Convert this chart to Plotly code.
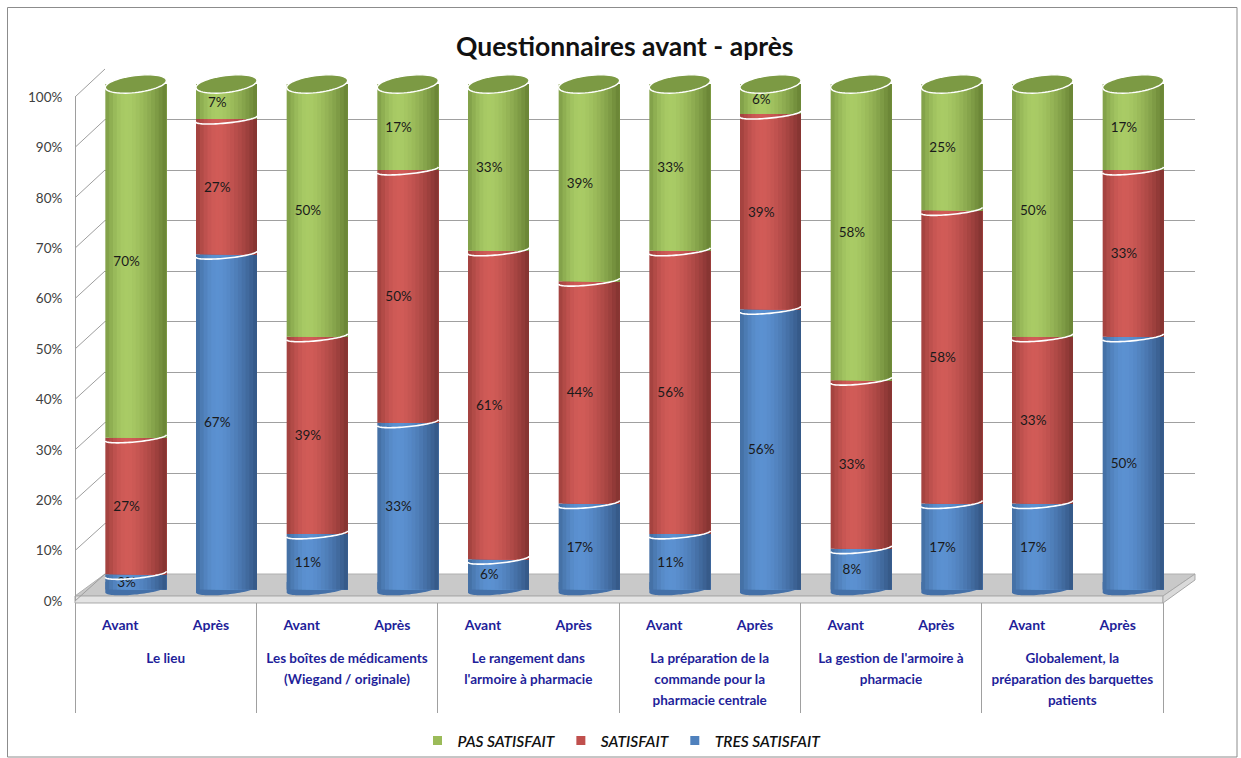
import numpy as np
import plotly.graph_objects as go

# ---------------- data ----------------
groups = [
    "Le lieu",
    "Les boîtes de médicaments<br>(Wiegand / originale)",
    "Le rangement dans<br>l'armoire à pharmacie",
    "La préparation de la<br>commande pour la<br>pharmacie centrale",
    "La gestion de l'armoire à<br>pharmacie",
    "Globalement, la<br>préparation des barquettes<br>patients",
]
moments = ["Avant", "Après"] * 6
tres_satisfait = [3, 67, 11, 33, 6, 17, 11, 56, 8, 17, 17, 50]
satisfait = [27, 27, 39, 50, 61, 44, 56, 39, 33, 58, 33, 33]
pas_satisfait = [70, 7, 50, 17, 33, 39, 33, 6, 58, 25, 50, 17]
series_names = ["PAS SATISFAIT", "SATISFAIT", "TRES SATISFAIT"]
y_ticks = list(range(0, 101, 10))

# ---------------- geometry helpers ----------------
W_PX, H_PX = 1241, 758
def px(x): return x / W_PX
def py(y): return 1 - y / H_PX

UX = 1088 / 12.0          # px per bar slot
UY = 5.055                # px per percent (bar plane)
Y0BAR = 589.5             # px of 0 % in bar plane
xr = [-0.5, 11.6]
x2_dom = [px(75), px(75 + (xr[1] - xr[0]) * UX)]
yr2 = [-4, 104]
y2_dom = [py(Y0BAR - yr2[0] * UY), py(Y0BAR - yr2[1] * UY)]
BW = 61 / UX
BOFF = -15 / UX

n = len(moments)
xs = list(range(n))
vals = np.array([tres_satisfait, satisfait, pas_satisfait], dtype=float)
tot = vals.sum(axis=0)
norm = vals / tot * 100
bases = np.vstack([np.zeros(n), norm[0], norm[0] + norm[1]])

# colours: (left edge, highlight, right edge)
pal = {
    "TRES SATISFAIT": ((66, 108, 160), (92, 146, 210), (52, 86, 132)),
    "SATISFAIT": ((158, 64, 61), (210, 92, 88), (130, 50, 48)),
    "PAS SATISFAIT": ((126, 156, 70), (170, 204, 102), (104, 130, 52)),
}
legend_col = {"PAS SATISFAIT": "#9bbb59", "SATISFAIT": "#c0504d", "TRES SATISFAIT": "#4f81bd"}

def strip_color(cols, u, h=0.36):
    l, m, r = [np.array(c, float) for c in cols]
    if u < h:
        f = np.sin(np.pi / 2 * u / h)
        c = l + (m - l) * f
    else:
        f = ((u - h) / (1 - h)) ** 1.5
        c = m + (r - m) * f
    return "rgb(%d,%d,%d)" % tuple(np.clip(c, 0, 255))

# group labels split into lines (one axis per line for Excel-like spacing)
group_lines = [g.split("<br>") for g in groups]
n_lines = max(len(l) for l in group_lines)
group_centers = [2 * g + 0.5 for g in range(len(groups))]

fig = go.Figure()

# helper traces so every axis gets drawn
helper_axes = [("x", "y"), ("x2", "y4"), ("x3", "y2")] + [("x%d" % (4 + j), "y2") for j in range(n_lines)]
for xa, ya in helper_axes:
    fig.add_trace(go.Scatter(x=[None], y=[None], xaxis=xa, yaxis=ya, showlegend=False, hoverinfo="skip"))

# shaded cylinder bodies
N = 16
order = [(0, "TRES SATISFAIT"), (1, "SATISFAIT"), (2, "PAS SATISFAIT")]
for si, name in order:
    for k in range(N):
        start = BOFF + k * BW / N
        width = BW - k * BW / N
        fig.add_trace(go.Bar(
            x=xs, y=norm[si], base=bases[si], width=width, offset=start,
            marker=dict(color=strip_color(pal[name], (k + 0.5) / N), line=dict(width=0)),
            xaxis="x2", yaxis="y2", showlegend=False, hoverinfo="skip",
        ))

# value labels
for si, name in order:
    raw = vals[si]
    fig.add_trace(go.Bar(
        x=xs, y=norm[si], base=bases[si], width=BW * 0.7, offset=BOFF,
        marker=dict(color="rgba(0,0,0,0)", line=dict(width=0)),
        text=["%d%%" % v for v in raw], textposition="inside", insidetextanchor="middle",
        textangle=0, constraintext="none",
        textfont=dict(family="Lato, sans-serif", size=13.5, color="#1a1a1a"),
        xaxis="x2", yaxis="y2", showlegend=False, hoverinfo="skip", cliponaxis=False,
    ))

# legend entries
for name in series_names:
    fig.add_trace(go.Scatter(
        x=[None], y=[None], mode="markers", name=name,
        marker=dict(symbol="square", size=9, color=legend_col[name]),
        xaxis="x2", yaxis="y2", hoverinfo="skip",
    ))

shapes = []

def ell_points(cx, cy, a, b_px, s_px, t0, t1, m=40):
    t = np.linspace(t0, t1, m)
    X = cx + a * np.cos(t)
    Y = cy + (-b_px * np.sin(t) + s_px * np.cos(t)) / UY
    return X, Y

def path_from(X, Y, close=False):
    p = "M %.4f,%.4f " % (X[0], Y[0]) + " ".join("L %.4f,%.4f" % (a, b) for a, b in zip(X[1:], Y[1:]))
    return p + (" Z" if close else "")

a = BW / 2
for i in xs:
    cx = i + BOFF + BW / 2
    # bottom rounded edge
    X, Y = ell_points(cx, 0.0, a, 5, 3, 0, np.pi)
    X = np.concatenate([X, [cx - a, cx + a]])
    Y = np.concatenate([Y, [1.5, 1.5]])
    shapes.append(dict(type="path", xref="x2", yref="y2", layer="below",
                       path=path_from(X, Y, True), fillcolor="rgb(68,112,168)", line=dict(width=0)))
    # boundaries between segments
    for c in (bases[1][i], bases[2][i]):
        X, Y = ell_points(cx, c, a, 4, 3, 0, np.pi)
        shapes.append(dict(type="path", xref="x2", yref="y2", layer="above",
                           path=path_from(X, Y), line=dict(color="white", width=1.6)))
    # top cap
    top = bases[2][i] + norm[2][i]
    X, Y = ell_points(cx, top, a, 8.5, 3.5, 0, 2 * np.pi, 60)
    shapes.append(dict(type="path", xref="x2", yref="y2", layer="above",
                       path=path_from(X, Y, True), fillcolor="rgb(124,154,68)",
                       line=dict(color="white", width=1.4)))

# floor
def ppath(pts):
    return "M " + " L ".join("%.5f,%.5f" % (px(x), py(y)) for x, y in pts) + " Z"
shapes.append(dict(type="path", xref="paper", yref="paper", layer="below",
                   path=ppath([(75, 596), (1163, 596), (1195, 574), (105, 574)]),
                   fillcolor="#c9c9c9", line=dict(color="#b0b0b0", width=1)))
shapes.append(dict(type="path", xref="paper", yref="paper", layer="below",
                   path=ppath([(75, 596), (1163, 596), (1163, 603), (75, 603)]),
                   fillcolor="#e4e4e4", line=dict(color="#a8a8a8", width=1)))
shapes.append(dict(type="path", xref="paper", yref="paper", layer="below",
                   path=ppath([(1163, 596), (1195, 574), (1195, 580), (1163, 603)]),
                   fillcolor="#dadada", line=dict(color="#a8a8a8", width=1)))
# left wall diagonals
for v in y_ticks:
    yf = 601 - v * 5.04
    yb = 574 - v * 5.05
    shapes.append(dict(type="line", xref="paper", yref="paper", layer="below",
                       x0=px(75), y0=py(yf), x1=px(105), y1=py(yb),
                       line=dict(color="#9e9e9e", width=1)))
# outer frame
shapes.append(dict(type="rect", xref="paper", yref="paper", layer="below",
                   x0=px(7.5), y0=py(757), x1=px(1237), y1=py(7.5),
                   line=dict(color="#8c8c8c", width=1), fillcolor="rgba(0,0,0,0)"))

navy = "#1f1f9a"
labfont = dict(family="Lato, sans-serif", size=14, color=navy, weight="bold")
grpfont = dict(family="Lato, sans-serif", size=13.5, color=navy, weight="bold")

layout_axes = dict(
    xaxis=dict(domain=[px(105), px(1195)], range=[0, 1], visible=False, anchor="y"),
    yaxis=dict(domain=[py(574), py(69)], range=[0, 100], tickvals=y_ticks, showgrid=True,
               gridcolor="#a0a0a0", gridwidth=1.4, showticklabels=False, zeroline=False,
               showline=False, ticks="", anchor="x"),
    xaxis2=dict(domain=x2_dom, range=xr, anchor="free", position=py(602),
                tickmode="array", tickvals=xs, ticktext=moments, ticks="",
                showline=False, showgrid=False, zeroline=False, tickfont=labfont,
                ticklabelstandoff=13),
    xaxis3=dict(overlaying="x2", range=xr, anchor="free", position=py(602),
                tickmode="array", tickvals=[2 * g - 0.5 for g in range(len(groups) + 1)],
                ticks="outside", ticklen=110, tickwidth=1, tickcolor="#a0a0a0",
                showticklabels=False, showline=False, showgrid=False, zeroline=False, side="bottom"),
    yaxis2=dict(domain=y2_dom, range=yr2, visible=False, anchor="x2"),
    yaxis4=dict(domain=[py(601), py(97)], range=[0, 100], anchor="free", position=px(75),
                tickmode="array", tickvals=y_ticks, ticktext=["%d%%" % v for v in y_ticks],
                showline=True, linecolor="#9e9e9e", linewidth=1, ticks="", ticklabelstandoff=10,
                showgrid=False, zeroline=False,
                tickfont=dict(family="Lato, sans-serif", size=13.5, color="#404040")),
)
for j in range(n_lines):
    layout_axes["xaxis%d" % (4 + j)] = dict(
        overlaying="x2", range=xr, anchor="free", position=py(602),
        tickmode="array", tickvals=group_centers,
        ticktext=[l[j] if j < len(l) else "" for l in group_lines],
        ticks="", showline=False, showgrid=False, zeroline=False, tickfont=grpfont,
        ticklabelstandoff=46 + 21 * j, side="bottom")

fig.update_layout(
    width=W_PX, height=H_PX,
    margin=dict(l=0, r=0, t=0, b=0, pad=0, autoexpand=False),
    paper_bgcolor="white", plot_bgcolor="rgba(0,0,0,0)",
    barmode="overlay",
    showlegend=True,
    legend=dict(orientation="h", x=px(622), y=py(741), xanchor="center", yanchor="middle",
                font=dict(family="Lato, sans-serif", size=15.5, color="#111111", style="italic",
                          weight=600),
                itemwidth=30, traceorder="normal", bgcolor="rgba(0,0,0,0)"),
    annotations=[dict(text="<b>Questionnaires avant - après</b>", x=px(625), y=py(46),
                      xref="paper", yref="paper", showarrow=False, xanchor="center", yanchor="middle",
                      font=dict(family="Lato, sans-serif", size=26.5, color="#111111"))],
    shapes=shapes,
    **layout_axes,
)

fig.write_html("out.html", post_script="document.body.style.margin='0px';")
